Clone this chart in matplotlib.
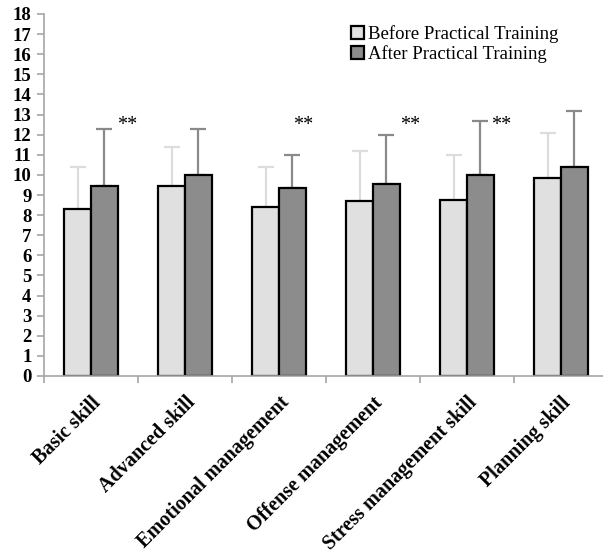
import matplotlib
matplotlib.use('Agg')
import matplotlib.pyplot as plt
import numpy as np

# data
categories = ['Basic skill', 'Advanced skill', 'Emotional management',
              'Offense management', 'Stress management skill', 'Planning skill']
before_mean = [8.3, 9.45, 8.4, 8.7, 8.75, 9.85]
before_top = [10.4, 11.4, 10.4, 11.2, 11.0, 12.1]
after_mean = [9.45, 10.0, 9.35, 9.55, 10.0, 10.4]
after_top = [12.3, 12.3, 11.0, 12.0, 12.7, 13.2]
significance = ['**', '', '**', '**', '**', '']

plt.rcParams['font.family'] = ['Liberation Serif', 'DejaVu Serif']

fig = plt.figure(figsize=(6.03, 5.5), dpi=100)
ax = fig.add_axes([44 / 603, 174 / 550, 564 / 603, 362 / 550])

x = np.arange(len(categories))
w = 0.287
before_err = np.array(before_top) - np.array(before_mean)
after_err = np.array(after_top) - np.array(after_mean)

ax.bar(x - w / 2, before_mean, w, color='#e0e0e0', edgecolor='black', linewidth=1.6,
       yerr=[np.zeros(len(x)), before_err],
       error_kw=dict(ecolor='#dcdcdc', elinewidth=1.6, capsize=6, capthick=1.6, zorder=1),
       label='Before Practical Training', zorder=2)
ax.bar(x + w / 2, after_mean, w, color='#8c8c8c', edgecolor='black', linewidth=1.6,
       yerr=[np.zeros(len(x)), after_err],
       error_kw=dict(ecolor='#8a8a8a', elinewidth=1.6, capsize=6, capthick=1.6, zorder=1),
       label='After Practical Training', zorder=2)

# significance marks
offsets = [0.38, 0.38, 0.26, 0.39, 0.36, 0.38]
for i, s in enumerate(significance):
    if s:
        ax.text(i + offsets[i], 12.45, s, ha='center', va='center', fontsize=14.5)

ax.set_xlim(-0.5, len(categories) - 0.5)
ax.set_ylim(0, 18)
ax.set_yticks(range(0, 19))
ax.set_yticklabels([str(v) for v in range(0, 19)], fontsize=13.5, fontweight='bold')
ax.set_xticks(x)
ax.set_xticklabels(categories, rotation=45, ha='right', rotation_mode='anchor',
                   fontsize=14.5, fontweight='bold')
ax.tick_params(axis='x', length=0, pad=12)
ax.set_xticks(np.arange(len(categories) + 1) - 0.5, minor=True)
ax.tick_params(axis='x', which='minor', length=5, color='#a6a6a6', width=1.2)
ax.tick_params(axis='y', length=5, color='#a6a6a6', width=1.2, pad=4)

for side in ['top', 'right']:
    ax.spines[side].set_visible(False)
for side in ['left', 'bottom']:
    ax.spines[side].set_color('#a6a6a6')
    ax.spines[side].set_linewidth(1.2)

leg = ax.legend(loc='upper left', bbox_to_anchor=(296 / 564, 1.0), frameon=False,
                fontsize=13.5, handlelength=0.7, handleheight=0.7, handletextpad=0.2,
                labelspacing=0.1, borderaxespad=0.2)

fig.savefig('out.png', dpi=100)
